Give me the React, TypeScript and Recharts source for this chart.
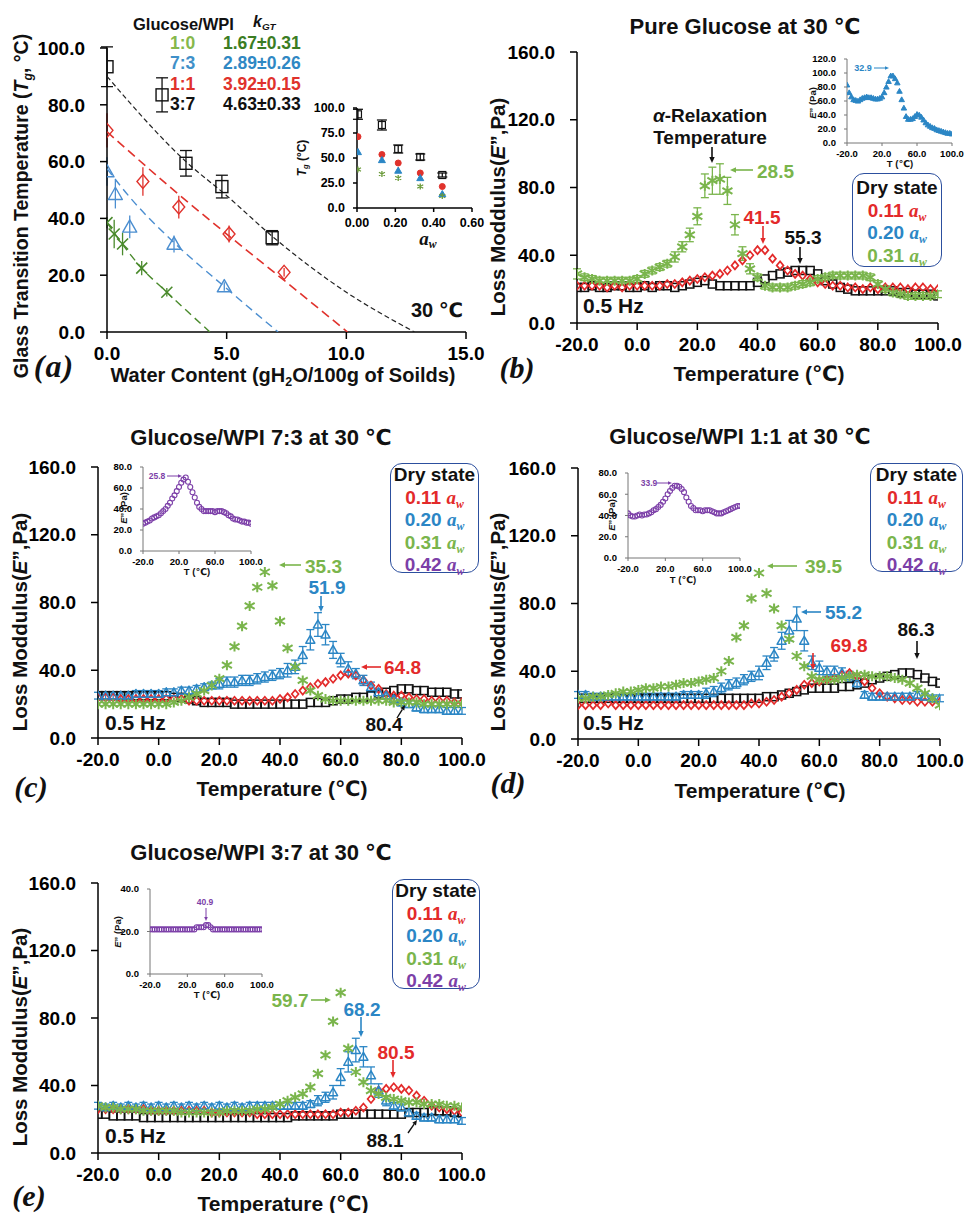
import React from "react";
import { ScatterChart, Scatter, XAxis, YAxis, ErrorBar } from "recharts";

const SANS = '"Liberation Sans", Arial, "DejaVu Sans", sans-serif';
const SERIF = '"Liberation Serif", "Times New Roman", serif';

const INK = "#111111";
const RED = "#e32a2a";
const BLUE = "#2b86c5";
const GREEN = "#7ab54c";
const PURPLE = "#7c3fa8";
const A_RED = "#e0322c";
const A_BLUE = "#4b8ed0";
const A_GREEN = "#4a8a2c";
const EDGE = "#2c4f9e";

// ---------- (a) glass transition vs water content ----------
const ratioLabels = ["1:0", "7:3", "1:1", "3:7"];
const kgtLabels = ["1.67±0.31", "2.89±0.26", "3.92±0.15", "4.63±0.33"];

const wc37 = [0, 2.3, 3.3, 4.8, 6.9];
const tg37 = [93.4, 83.5, 59.4, 51.2, 33.2];
const err37 = [7, 6, 4.5, 4, 2.5];
const wc11 = [0, 1.5, 3.0, 5.1, 7.4];
const tg11 = [71, 53, 44, 34.5, 21];
const err11 = [6, 5, 4, 3, 1.5];
const wc73 = [0, 0.35, 0.95, 2.8, 4.9];
const tg73 = [56.5, 48.5, 37, 31, 16];
const err73 = [5, 5, 4, 3, 1.5];
const wc10 = [0, 0.3, 0.65, 1.45, 2.5];
const tg10 = [38.5, 34.5, 31, 22.5, 14];
const err10 = [2, 5, 4, 2.5, 1.5];

// Gordon-Taylor fit curves
const fit37x = [0, 3.3, 5, 7, 10, 12.85];
const fit37y = [90, 60, 48, 33, 14, 0];
const fit11x = [0, 2.5, 5, 7.5, 10.05];
const fit11y = [70.5, 52, 34.5, 17.5, 0];
const fit73x = [0, 1, 2.8, 4.9, 7.15];
const fit73y = [57.5, 47, 31.5, 16, 0];
const fit10x = [0, 1.45, 2.5, 4.3];
const fit10y = [38.5, 22.5, 14, 0];

// inset: Tg vs water activity
const awInset = [0.005, 0.13, 0.215, 0.33, 0.445];
const tgAw37 = [93.7, 83, 59, 51, 33];
const tgAw37Err = [5, 5, 4, 3, 2];
const tgAw11 = [71.3, 53.5, 45, 35, 21.5];
const tgAw73 = [56, 48, 37.4, 30, 14];
const tgAw10 = [38.5, 34, 30, 21.5, 12];

// ---------- DMA loss modulus panels (b)-(e) ----------
const temps = [-20, -17.5, -15, -12.5, -10, -7.5, -5, -2.5, 0,
  2.5, 5, 7.5, 10, 12.5, 15, 17.5, 20,
  22.5, 25, 27.5, 30, 32.5, 35, 37.5, 40,
  42.5, 45, 47.5, 50, 52.5, 55, 57.5, 60,
  62.5, 65, 67.5, 70, 72.5, 75, 77.5, 80,
  82.5, 85, 87.5, 90, 92.5, 95, 97.5, 100];

const awLabels = ["0.11", "0.20", "0.31", "0.42"];

// (b) pure glucose
const pgDry = [21, 21, 22, 21, 21, 22, 22, 21, 21,
  22, 21, 22, 22, 21, 22, 23, 24,
  25, 23, 22, 22, 22, 22, 22, 24,
  26, 28, 29, 30, 31, 31, 31, 29,
  25, 23, 21, 20, 19, 19, 19, 19,
  19, 19, 18, 18, 17, 17, 17, 16];
const pgAw11 = [22, 22, 22, 22, 21, 22, 21, 22, 22,
  22, 22, 22, 23, 23, 24, 25, 26,
  27, 28, 29, 31, 34, 37, 40, 43,
  43, 38, 34, 31, 29, 28, 26, 24,
  23, 22, 22, 21, 21, 20, 21, 20,
  21, 21, 21, 20, 21, 21, 20, 20];
const pgAw31 = [29, 27, 26, 25, 25, 25, 25, 25, 26,
  29, 31, 33, 35, 39, 45, 52, 63,
  81, 84, 85, 78, 58, 41, 32, 27,
  22, 21, 21, 21, 22, 23, 24, 26,
  27, 28, 28, 28, 28, 28, 27, 23,
  20, 18, 17, 16, 16, 16, 16, 17];
const pgAw31Err = [3, 2, 2, 2, 2, 2, 2, 2, 2,
  2, 2, 2, 2, 3, 3, 4, 5,
  7, 8, 9, 8, 6, 4, 3, 2,
  2, 2, 2, 2, 2, 2, 2, 2,
  2, 2, 2, 2, 2, 2, 2, 2,
  2, 2, 2, 2, 2, 2, 2, 2];
const pgAw20 = [83, 72, 66, 62, 61, 60, 62, 64, 65,
  66, 65, 65, 64, 63, 63, 64, 66,
  72, 80, 88, 96, 96, 92, 86, 74,
  62, 50, 38, 34, 34, 35, 38, 41,
  40, 37, 33, 29, 26, 24, 22, 21,
  19, 18, 17, 16, 15, 14, 14, 13];

// (c) glucose/WPI 7:3
const g73Dry = [25, 25, 25, 25, 25, 25, 25, 25, 25,
  25, 24, 24, 23, 22, 21, 21, 21,
  21, 20, 20, 20, 20, 20, 20, 20,
  20, 20, 20, 21, 21, 21, 22, 23,
  23, 24, 24, 25, 26, 27, 28, 29,
  29, 28, 28, 27, 27, 27, 26, 26];
const g73Aw11 = [24, 24, 24, 23, 23, 23, 23, 23, 23,
  23, 23, 23, 22, 22, 22, 22, 22,
  22, 22, 22, 22, 22, 22, 22, 23,
  24, 26, 28, 30, 32, 33, 35, 37,
  38, 37, 34, 31, 29, 26, 25, 25,
  24, 23, 23, 22, 22, 22, 21, 21];
const g73Aw20 = [25, 25, 25, 25, 25, 26, 26, 26, 26,
  27, 27, 28, 28, 29, 30, 31, 32,
  33, 33, 34, 34, 35, 36, 37, 38,
  40, 42, 49, 58, 67, 61, 52, 46,
  41, 38, 34, 30, 27, 25, 23, 21,
  20, 18, 17, 17, 17, 16, 16, 16];
const g73Aw20Err = [2, 2, 2, 2, 2, 2, 2, 2, 2,
  2, 2, 2, 2, 2, 2, 2, 3,
  3, 3, 3, 3, 3, 3, 3, 3,
  4, 4, 5, 6, 7, 6, 5, 4,
  4, 3, 3, 3, 2, 2, 2, 2,
  2, 2, 2, 2, 2, 2, 2, 2];
const g73Aw31 = [20, 20, 20, 20, 20, 20, 20, 20, 20,
  20, 21, 22, 24, 26, 28, 31, 35,
  43, 54, 66, 78, 89, 98, 90, 69,
  53, 42, 34, 28, 25, 23, 22, 22,
  22, 22, 22, 22, 22, 22, 21, 21,
  21, 21, 20, 20, 20, 20, 20, 20];
const g73Aw42 = [26, 27, 28, 29, 31, 32, 33, 34, 36,
  38, 40, 43, 46, 50, 53, 57, 61,
  65, 68, 70, 66, 61, 56, 51, 46,
  42, 40, 38, 38, 38, 38, 38, 37,
  38, 38, 38, 37, 36, 34, 33, 31,
  30, 30, 29, 28, 28, 27, 27, 26];

// (d) glucose/WPI 1:1
const g11Dry = [24, 24, 24, 24, 24, 24, 24, 24, 24,
  24, 24, 24, 24, 24, 24, 24, 24,
  24, 24, 24, 24, 24, 24, 24, 24,
  25, 25, 26, 27, 28, 29, 30, 30,
  30, 30, 31, 31, 32, 33, 35, 36,
  37, 38, 39, 39, 38, 36, 34, 33];
const g11Aw11 = [20, 20, 20, 20, 21, 20, 20, 20, 20,
  20, 20, 20, 20, 20, 20, 20, 20,
  20, 20, 20, 20, 20, 20, 21, 21,
  22, 23, 25, 27, 29, 32, 33, 34,
  35, 36, 38, 39, 37, 34, 30, 27,
  25, 24, 23, 23, 22, 22, 22, 22];
const g11Aw20 = [26, 26, 25, 25, 25, 25, 25, 25, 25,
  25, 25, 25, 25, 25, 26, 26, 26,
  27, 28, 30, 32, 33, 35, 37, 39,
  45, 50, 58, 64, 71, 58, 45, 42,
  40, 40, 39, 37, 33, 26, 25, 25,
  25, 25, 25, 25, 26, 25, 24, 24];
const g11Aw20Err = [2, 2, 2, 2, 2, 2, 2, 2, 2,
  2, 2, 2, 2, 2, 2, 2, 2,
  3, 3, 3, 3, 3, 3, 3, 4,
  4, 4, 5, 6, 7, 6, 4, 4,
  3, 3, 3, 3, 3, 2, 2, 2,
  2, 2, 2, 2, 2, 2, 2, 2];
const g11Aw31 = [24, 24, 25, 25, 26, 27, 28, 28, 29,
  30, 30, 31, 31, 32, 33, 33, 34,
  35, 36, 40, 46, 60, 67, 83, 98,
  86, 77, 67, 59, 49, 43, 37, 35,
  35, 35, 36, 37, 38, 38, 37, 37,
  37, 36, 35, 33, 30, 27, 24, 20];
const g11Aw42 = [42, 40, 39, 39, 40, 41, 40, 41, 41,
  42, 43, 45, 46, 48, 50, 53, 56,
  60, 63, 66, 68, 68, 67, 65, 62,
  57, 53, 49, 47, 45, 45, 45, 44,
  45, 45, 45, 44, 43, 42, 42, 42,
  43, 44, 45, 46, 47, 48, 49, 49];

// (e) glucose/WPI 3:7
const g37Dry = [23, 23, 22, 22, 22, 22, 21, 21, 21,
  21, 21, 21, 21, 21, 21, 21, 21,
  21, 21, 21, 21, 21, 21, 21, 21,
  21, 22, 22, 22, 22, 22, 22, 23,
  23, 23, 23, 23, 23, 23, 23, 23,
  24, 24, 24, 25, 25, 25, 24, 24];
const g37Aw11 = [26, 26, 26, 26, 26, 26, 26, 25, 25,
  25, 25, 25, 25, 25, 25, 24, 24,
  24, 24, 24, 24, 23, 23, 23, 23,
  23, 23, 23, 23, 23, 23, 23, 24,
  24, 25, 27, 32, 37, 38, 39, 38,
  37, 34, 31, 28, 27, 26, 25, 24];
const g37Aw20 = [28, 27, 28, 27, 28, 27, 28, 27, 28,
  27, 28, 27, 28, 27, 28, 27, 28,
  27, 28, 27, 28, 28, 28, 28, 28,
  28, 28, 28, 29, 31, 33, 36, 45,
  54, 61, 57, 46, 37, 31, 28, 27,
  24, 22, 21, 21, 20, 20, 20, 19];
const g37Aw20Err = [2, 2, 2, 2, 2, 2, 2, 2, 2,
  2, 2, 2, 2, 2, 2, 2, 2,
  2, 2, 2, 2, 2, 2, 2, 2,
  2, 2, 2, 2, 3, 3, 4, 5,
  6, 7, 6, 5, 4, 3, 2, 2,
  2, 2, 2, 2, 2, 2, 2, 2];
const g37Aw31 = [28, 27, 27, 26, 26, 26, 25, 25, 25,
  25, 25, 24, 24, 24, 24, 24, 24,
  25, 25, 25, 25, 26, 26, 27, 29,
  31, 33, 35, 39, 47, 58, 78, 95,
  62, 48, 42, 37, 35, 33, 32, 31,
  30, 30, 29, 29, 29, 28, 28, 27];
const g37Aw42 = [21, 21, 21, 21, 21, 21, 21, 21, 21,
  21, 21, 21, 21, 21, 21, 21, 21,
  21, 21, 21, 22, 22, 22, 22, 23,
  23, 22, 21, 21, 21, 21, 21, 21,
  21, 21, 21, 21, 21, 21, 21, 21,
  21, 21, 21, 21, 21, 21, 21, 21];

// ticks
const wcTicks = [0, 5, 10, 15];
const tgTicks = [0, 20, 40, 60, 80, 100];
const awTicks = [0, 0.2, 0.4, 0.6];
const tgInsetTicks = [0, 25, 50, 75, 100];
const tempTicks = [-20, 0, 20, 40, 60, 80, 100];
const insetTempTicks = [-20, 20, 60, 100];
const lossTicks = [0, 40, 80, 120, 160];
const lossInsetB = [0, 20, 40, 60, 80, 100, 120];
const lossInset80 = [0, 20, 40, 60, 80];
const lossInset40 = [0, 20, 40];

type Pt = { x: number; y: number; err: number };
const pts = (xs: number[], ys: number[], errs?: number[]): Pt[] =>
  xs.map((x, i) => ({ x, y: ys[i], err: errs ? errs[i] : 0 }));

const mark = (kind: string, color: string, size: number, fill = "none", sw = 1.5) =>
  (p: any) => {
    const cx = p.cx as number;
    const cy = p.cy as number;
    if (!Number.isFinite(cx) || !Number.isFinite(cy)) return <g />;
    const h = size / 2;
    if (kind === "square")
      return <rect x={cx - h} y={cy - h} width={size} height={size} fill={fill} stroke={color} strokeWidth={sw} />;
    if (kind === "diamond")
      return (
        <polygon
          points={`${cx},${cy - h} ${cx + h * 0.85},${cy} ${cx},${cy + h} ${cx - h * 0.85},${cy}`}
          fill={fill} stroke={color} strokeWidth={sw}
        />
      );
    if (kind === "triangle")
      return (
        <polygon
          points={`${cx},${cy - h} ${cx + h},${cy + h * 0.75} ${cx - h},${cy + h * 0.75}`}
          fill={fill} stroke={color} strokeWidth={sw} strokeLinejoin="round"
        />
      );
    if (kind === "circle") return <circle cx={cx} cy={cy} r={h} fill={fill} stroke={color} strokeWidth={sw} />;
    if (kind === "cross")
      return (
        <path d={`M${cx - h},${cy - h}L${cx + h},${cy + h}M${cx - h},${cy + h}L${cx + h},${cy - h}`} stroke={color} strokeWidth={sw} />
      );
    return (
      <path
        d={`M${cx - h},${cy - h * 0.6}L${cx + h},${cy + h * 0.6}M${cx - h},${cy + h * 0.6}L${cx + h},${cy - h * 0.6}M${cx},${cy - h}L${cx},${cy + h}`}
        stroke={color} strokeWidth={sw}
      />
    );
  };
const noMark = () => <g />;

type Series = {
  data: Pt[];
  shape: (p: any) => React.ReactElement;
  errColor?: string;
  errWidth?: number;
  line?: { stroke: string; strokeWidth: number; strokeDasharray: string };
};

type PlotProps = {
  box: [number, number, number, number];
  xDomain: [number, number];
  xTicks: number[];
  xDigits: number;
  yDomain: [number, number];
  yTicks: number[];
  yDigits?: number;
  font: number;
  tickLen: number;
  xGap: number;
  yGap: number;
  yw: number;
  xh: number;
  mr: number;
  mt: number;
  axisColor?: string;
  axisWidth?: number;
  series: Series[];
};

function Plot(p: PlotProps) {
  const [x0, y0, x1, y1] = p.box;
  const w = x1 - x0 + p.yw + p.mr;
  const h = y1 - y0 + p.mt + p.xh;
  const tick = { fill: "#000", fontSize: p.font, fontWeight: 700, fontFamily: SANS };
  const axis = { stroke: p.axisColor ?? "#000", strokeWidth: p.axisWidth ?? 1.5 };
  const yd = p.yDigits ?? 1;
  return (
    <div style={{ position: "absolute", left: x0 - p.yw, top: y0 - p.mt }}>
      <ScatterChart width={w} height={h} margin={{ top: p.mt, right: p.mr, bottom: 0, left: 0 }}>
        <XAxis
          type="number" dataKey="x" domain={p.xDomain} ticks={p.xTicks} interval={0} allowDataOverflow
          tickFormatter={(v: number) => Number(v).toFixed(p.xDigits)}
          tick={tick} axisLine={axis} tickLine={axis} tickSize={p.tickLen} tickMargin={p.xGap} height={p.xh}
        />
        <YAxis
          type="number" dataKey="y" domain={p.yDomain} ticks={p.yTicks} interval={0} allowDataOverflow
          tickFormatter={(v: number) => Number(v).toFixed(yd)}
          tick={tick} axisLine={axis} tickLine={axis} tickSize={p.tickLen} tickMargin={p.yGap} width={p.yw}
        />
        {p.series.map((s, i) => (
          <Scatter
            key={i} data={s.data} shape={s.shape} line={s.line} lineJointType="monotoneX"
            isAnimationActive={false}
          >
            {s.errColor ? (
              <ErrorBar dataKey="err" direction="y" width={s.errWidth ?? 4} stroke={s.errColor} strokeWidth={1.3} />
            ) : null}
          </Scatter>
        ))}
      </ScatterChart>
    </div>
  );
}

const Sub = ({ children }: { children: React.ReactNode }) => (
  <sub style={{ fontSize: "0.62em", verticalAlign: "-0.3em", lineHeight: 0 }}>{children}</sub>
);

type TxtProps = {
  x: number;
  y: number;
  size: number;
  color?: string;
  anchor?: "start" | "middle" | "end";
  rotate?: boolean;
  italic?: boolean;
  serif?: boolean;
  weight?: number;
  spacing?: number;
  children: React.ReactNode;
};

function Txt({ x, y, size, color = INK, anchor = "middle", rotate, italic, serif, weight = 700, spacing, children }: TxtProps) {
  const tx = anchor === "start" ? "0" : anchor === "end" ? "-100%" : "-50%";
  return (
    <div
      style={{
        position: "absolute", left: x, top: y,
        transform: rotate ? "translate(-50%,-50%) rotate(-90deg)" : `translate(${tx},-50%)`,
        fontFamily: serif ? SERIF : SANS, fontSize: size, fontWeight: weight,
        fontStyle: italic ? "italic" : "normal", color, whiteSpace: "nowrap", lineHeight: 1,
        letterSpacing: spacing,
      }}
    >
      {children}
    </div>
  );
}

const Aw = () => (
  <span style={{ fontFamily: SERIF, fontStyle: "italic", fontWeight: 700 }}>
    a<Sub>w</Sub>
  </span>
);

function Arrow({ x1, y1, x2, y2, color, w = 1.6, head = 6 }: { x1: number; y1: number; x2: number; y2: number; color: string; w?: number; head?: number }) {
  const ang = Math.atan2(y2 - y1, x2 - x1);
  const hx = x2 - head * Math.cos(ang);
  const hy = y2 - head * Math.sin(ang);
  const px = Math.sin(ang) * head * 0.45;
  const py = -Math.cos(ang) * head * 0.45;
  return (
    <g>
      <line x1={x1} y1={y1} x2={hx} y2={hy} stroke={color} strokeWidth={w} />
      <polygon points={`${x2},${y2} ${hx + px},${hy + py} ${hx - px},${hy - py}`} fill={color} />
    </g>
  );
}

const awColors = [RED, BLUE, GREEN, PURPLE];

function DryLegend({ left, top, width, height, n, pad }: { left: number; top: number; width: number; height: number; n: number; pad: number }) {
  return (
    <div
      style={{
        position: "absolute", left, top, width, height, boxSizing: "border-box",
        border: `1.6px solid ${EDGE}`, borderRadius: 12, fontFamily: SANS, fontWeight: 700,
        fontSize: 19, lineHeight: "22.5px", textAlign: "center", paddingTop: pad, whiteSpace: "nowrap",
      }}
    >
      <div style={{ color: INK }}>Dry state</div>
      {awLabels.slice(0, n).map((a, i) => (
        <div key={a} style={{ color: awColors[i] }}>
          {a} <Aw />
        </div>
      ))}
    </div>
  );
}

const mainAxes = {
  xDomain: [-20, 100] as [number, number], xTicks: tempTicks, xDigits: 1,
  yDomain: [0, 160] as [number, number], yTicks: lossTicks,
  font: 19, tickLen: 7, xGap: 8, yGap: 15, yw: 80, xh: 36, mr: 24, mt: 12,
};
const insetAxes = {
  xDomain: [-20, 100] as [number, number], xTicks: insetTempTicks, xDigits: 1,
  font: 9.5, tickLen: 3, xGap: 4, yGap: 8, yw: 40, xh: 20, mr: 12, mt: 6,
  axisColor: "#777", axisWidth: 1,
};

const dryMark = mark("square", INK, 8);
const aw11Mark = mark("diamond", RED, 8, "none", 1.7);
const aw20Mark = mark("triangle", BLUE, 9, "none", 1.5);
const aw31Mark = mark("star", GREEN, 10, "none", 2);
const aw42Mark = mark("circle", PURPLE, 5, "none", 1.1);

export default function App() {
  const aSeries: Series[] = [
    { data: pts(fit37x, fit37y), shape: noMark, line: { stroke: "#222", strokeWidth: 1.2, strokeDasharray: "5 3" } },
    { data: pts(fit11x, fit11y), shape: noMark, line: { stroke: A_RED, strokeWidth: 1.6, strokeDasharray: "9 5" } },
    { data: pts(fit73x, fit73y), shape: noMark, line: { stroke: A_BLUE, strokeWidth: 1.4, strokeDasharray: "8 5" } },
    { data: pts(fit10x, fit10y), shape: noMark, line: { stroke: A_GREEN, strokeWidth: 1.4, strokeDasharray: "8 5" } },
    { data: pts(wc37, tg37, err37), shape: mark("square", INK, 12, "none", 1.4), errColor: INK, errWidth: 6 },
    { data: pts(wc11, tg11, err11), shape: mark("diamond", A_RED, 14, "none", 1.4), errColor: A_RED, errWidth: 0 },
    { data: pts(wc73, tg73, err73), shape: mark("triangle", A_BLUE, 14, "none", 1.4), errColor: A_BLUE, errWidth: 0 },
    { data: pts(wc10, tg10, err10), shape: mark("cross", A_GREEN, 11, "none", 1.6), errColor: A_GREEN, errWidth: 0 },
  ];
  const aInset: Series[] = [
    { data: pts(awInset, tgAw37, tgAw37Err), shape: mark("square", INK, 7, "none", 1.2), errColor: INK, errWidth: 5 },
    { data: pts(awInset, tgAw11), shape: mark("circle", A_RED, 6, A_RED, 1) },
    { data: pts(awInset, tgAw73), shape: mark("triangle", BLUE, 7, BLUE, 1) },
    { data: pts(awInset, tgAw10), shape: mark("star", "#6a9a3a", 6, "none", 1.3) },
  ];

  return (
    <div
      style={{
        position: "absolute", left: 0, top: 0, width: 965, height: 1213, overflow: "hidden",
        background: "#fff", fontFamily: SANS,
      }}
    >
      {/* (a) */}
      <Plot
        box={[107, 48, 466, 332]} xDomain={[0, 15]} xTicks={wcTicks} xDigits={1}
        yDomain={[0, 100]} yTicks={tgTicks} font={19} tickLen={7} xGap={8} yGap={15}
        yw={80} xh={36} mr={20} mt={12} series={aSeries}
      />
      <Plot
        box={[357, 108, 472, 208]} xDomain={[0, 0.6]} xTicks={awTicks} xDigits={2}
        yDomain={[0, 100]} yTicks={tgInsetTicks} font={12.5} tickLen={4} xGap={6} yGap={8}
        yw={52} xh={24} mr={22} mt={8} series={aInset}
      />

      {/* (b) */}
      <Plot
        {...mainAxes} box={[577, 52, 938, 323]}
        series={[
          { data: pts(temps, pgDry), shape: dryMark },
          { data: pts(temps, pgAw11), shape: aw11Mark },
          { data: pts(temps, pgAw31, pgAw31Err), shape: aw31Mark, errColor: GREEN, errWidth: 4 },
        ]}
      />
      <Plot
        {...insetAxes} box={[847, 59, 952, 143]} yDomain={[0, 120]} yTicks={lossInsetB}
        series={[{ data: pts(temps, pgAw20), shape: mark("triangle", BLUE, 5.5, BLUE, 1) }]}
      />

      {/* (c) */}
      <Plot
        {...mainAxes} box={[98, 467, 462, 738]}
        series={[
          { data: pts(temps, g73Dry), shape: dryMark },
          { data: pts(temps, g73Aw11), shape: aw11Mark },
          { data: pts(temps, g73Aw20, g73Aw20Err), shape: aw20Mark, errColor: BLUE, errWidth: 4 },
          { data: pts(temps, g73Aw31), shape: aw31Mark },
        ]}
      />
      <Plot
        {...insetAxes} box={[143, 467, 251, 551]} yDomain={[0, 80]} yTicks={lossInset80}
        series={[{ data: pts(temps, g73Aw42), shape: aw42Mark }]}
      />

      {/* (d) */}
      <Plot
        {...mainAxes} box={[578, 468, 940, 739]}
        series={[
          { data: pts(temps, g11Dry), shape: dryMark },
          { data: pts(temps, g11Aw11), shape: aw11Mark },
          { data: pts(temps, g11Aw20, g11Aw20Err), shape: aw20Mark, errColor: BLUE, errWidth: 4 },
          { data: pts(temps, g11Aw31), shape: aw31Mark },
        ]}
      />
      <Plot
        {...insetAxes} box={[628, 473, 740, 558]} yDomain={[0, 80]} yTicks={lossInset80}
        series={[{ data: pts(temps, g11Aw42), shape: aw42Mark }]}
      />

      {/* (e) */}
      <Plot
        {...mainAxes} box={[98, 883, 462, 1153]}
        series={[
          { data: pts(temps, g37Dry), shape: dryMark },
          { data: pts(temps, g37Aw11), shape: aw11Mark },
          { data: pts(temps, g37Aw20, g37Aw20Err), shape: aw20Mark, errColor: BLUE, errWidth: 4 },
          { data: pts(temps, g37Aw31), shape: aw31Mark },
        ]}
      />
      <Plot
        {...insetAxes} box={[150, 889, 262, 974]} yDomain={[0, 40]} yTicks={lossInset40}
        series={[{ data: pts(temps, g37Aw42), shape: aw42Mark }]}
      />

      {/* arrows */}
      <svg width={965} height={1213} style={{ position: "absolute", left: 0, top: 0, pointerEvents: "none" }}>
        {/* b */}
        <Arrow x1={712} y1={147} x2={712} y2={163} color={INK} />
        <Arrow x1={753} y1={170} x2={730} y2={170} color={GREEN} />
        <Arrow x1={763} y1={226} x2={763} y2={244} color={RED} />
        <Arrow x1={800} y1={247} x2={800} y2={264} color={INK} />
        <Arrow x1={874} y1={68} x2={889} y2={68} color={BLUE} w={1} head={4} />
        {/* c */}
        <Arrow x1={301} y1={565} x2={279} y2={565} color={GREEN} />
        <Arrow x1={321} y1={596} x2={321} y2={612} color={BLUE} />
        <Arrow x1={381} y1={667} x2={361} y2={667} color={RED} />
        <Arrow x1={397} y1={718} x2={405} y2={705} color={INK} w={1.4} head={5} />
        <Arrow x1={167} y1={476} x2={182} y2={476} color={PURPLE} w={1} head={4} />
        {/* d */}
        <Arrow x1={797} y1={566} x2={767} y2={566} color={GREEN} />
        <Arrow x1={821} y1={612} x2={801} y2={612} color={BLUE} />
        <Arrow x1={813} y1={653} x2={813} y2={670} color={RED} />
        <Arrow x1={917} y1={641} x2={917} y2={659} color={INK} />
        <Arrow x1={657} y1={483} x2={672} y2={483} color={PURPLE} w={1} head={4} />
        {/* e */}
        <Arrow x1={311} y1={1000} x2={331} y2={1000} color={GREEN} />
        <Arrow x1={361} y1={1017} x2={361} y2={1037} color={BLUE} />
        <Arrow x1={393} y1={1060} x2={393} y2={1078} color={RED} />
        <Arrow x1={408} y1={1133} x2={417} y2={1120} color={INK} w={1.4} head={5} />
        <Arrow x1={206} y1={908} x2={206} y2={921} color={PURPLE} w={1} head={4} />
      </svg>

      {/* (a) texts */}
      <Txt x={133} y={24} size={16.5} anchor="start">Glucose/WPI</Txt>
      <Txt x={253} y={22} size={16} anchor="start" italic>k<Sub>GT</Sub></Txt>
      {ratioLabels.map((r, i) => (
        <Txt key={r} x={170} y={[44, 64, 85, 105][i]} size={17.5} anchor="start"
          color={["#86b84b", "#3f90c9", A_RED, INK][i]}>{r}</Txt>
      ))}
      {kgtLabels.map((k, i) => (
        <Txt key={k} x={223} y={[44, 64, 85, 105][i]} size={17.5} anchor="start"
          color={["#3b7d23", "#2f88c4", A_RED, INK][i]}>{k}</Txt>
      ))}
      <Txt x={437} y={310} size={20}>30 ℃</Txt>
      <Txt x={22} y={206} size={19.5} rotate>
        Glass Transition Temperature (<i>T</i><Sub><i>g</i></Sub>, °C)
      </Txt>
      <Txt x={283} y={375} size={20}>
        Water Content (gH<Sub>2</Sub>O/100g of Soilds)
      </Txt>
      <Txt x={302} y={158} size={12} rotate>
        <i>T</i><Sub><i>g</i></Sub> (°C)
      </Txt>
      <Txt x={428} y={238} size={19} serif italic>a<Sub>w</Sub></Txt>
      <Txt x={54} y={366} size={32} serif italic spacing={1}>(a)</Txt>

      {/* (b) texts */}
      <Txt x={745} y={27} size={22}>Pure Glucose at 30 ℃</Txt>
      <Txt x={498} y={207} size={20.5} rotate>Loss Moddulus(<i>E</i>”,Pa)</Txt>
      <Txt x={759} y={373} size={21}>Temperature (℃)</Txt>
      <Txt x={517} y={368} size={30} serif italic>(b)</Txt>
      <Txt x={710} y={115} size={19}><i>α</i>-Relaxation</Txt>
      <Txt x={710} y={137} size={19}>Temperature</Txt>
      <Txt x={757} y={171} size={19} anchor="start" color={GREEN}>28.5</Txt>
      <Txt x={762} y={217} size={19} color={RED}>41.5</Txt>
      <Txt x={803} y={237} size={19}>55.3</Txt>
      <Txt x={583} y={305} size={21} anchor="start">0.5 Hz</Txt>
      <Txt x={863} y={68} size={9} color={BLUE}>32.9</Txt>
      <Txt x={813} y={103} size={9.5} rotate><i>E</i>” (Pa)</Txt>
      <Txt x={900} y={164} size={9.5}>T (℃)</Txt>
      <DryLegend left={852} top={173} width={90} height={94} n={3} pad={3} />

      {/* (c) texts */}
      <Txt x={261} y={438} size={22}>Glucose/WPI 7:3 at 30 ℃</Txt>
      <Txt x={20} y={622} size={20.5} rotate>Loss Moddulus(<i>E</i>”,Pa)</Txt>
      <Txt x={282} y={788} size={21}>Temperature (℃)</Txt>
      <Txt x={31} y={787} size={30} serif italic>(c)</Txt>
      <Txt x={305} y={566} size={19} anchor="start" color={GREEN}>35.3</Txt>
      <Txt x={327} y={587} size={19} color={BLUE}>51.9</Txt>
      <Txt x={384} y={667} size={19} anchor="start" color={RED}>64.8</Txt>
      <Txt x={384} y={724} size={19}>80.4</Txt>
      <Txt x={105} y={722} size={21} anchor="start">0.5 Hz</Txt>
      <Txt x={157} y={476} size={8.5} color={PURPLE}>25.8</Txt>
      <Txt x={124} y={508} size={9.5} rotate><i>E</i>” (Pa)</Txt>
      <Txt x={197} y={572} size={9.5}>T (℃)</Txt>
      <DryLegend left={390} top={463} width={89} height={110} n={4} pad={0} />

      {/* (d) texts */}
      <Txt x={740} y={437} size={22}>Glucose/WPI 1:1 at 30 ℃</Txt>
      <Txt x={498} y={622} size={20.5} rotate>Loss Moddulus(<i>E</i>”,Pa)</Txt>
      <Txt x={760} y={790} size={21}>Temperature (℃)</Txt>
      <Txt x={508} y={783} size={30} serif italic>(d)</Txt>
      <Txt x={805} y={566} size={19} anchor="start" color={GREEN}>39.5</Txt>
      <Txt x={825} y={612} size={19} anchor="start" color={BLUE}>55.2</Txt>
      <Txt x={849} y={645} size={19} color={RED}>69.8</Txt>
      <Txt x={916} y={629} size={19}>86.3</Txt>
      <Txt x={583} y={722} size={21} anchor="start">0.5 Hz</Txt>
      <Txt x={649} y={483} size={8.5} color={PURPLE}>33.9</Txt>
      <Txt x={612} y={515} size={9.5} rotate><i>E</i>” (Pa)</Txt>
      <Txt x={683} y={580} size={9.5}>T (℃)</Txt>
      <DryLegend left={870} top={463} width={93} height={109} n={4} pad={0} />

      {/* (e) texts */}
      <Txt x={261} y={853} size={22}>Glucose/WPI 3:7 at 30 ℃</Txt>
      <Txt x={20} y={1037} size={20.5} rotate>Loss Moddulus(<i>E</i>”,Pa)</Txt>
      <Txt x={283} y={1203} size={21}>Temperature (℃)</Txt>
      <Txt x={29} y={1196} size={30} serif italic>(e)</Txt>
      <Txt x={290} y={1000} size={19} color={GREEN}>59.7</Txt>
      <Txt x={362} y={1009} size={19} color={BLUE}>68.2</Txt>
      <Txt x={396} y={1052} size={19} color={RED}>80.5</Txt>
      <Txt x={385} y={1140} size={19}>88.1</Txt>
      <Txt x={105} y={1135} size={21} anchor="start">0.5 Hz</Txt>
      <Txt x={205} y={902} size={8.5} color={PURPLE}>40.9</Txt>
      <Txt x={118} y={932} size={9.5} rotate><i>E</i>” (Pa)</Txt>
      <Txt x={207} y={995} size={9.5}>T (℃)</Txt>
      <DryLegend left={392} top={879} width={88} height={110} n={4} pad={0} />
    </div>
  );
}
